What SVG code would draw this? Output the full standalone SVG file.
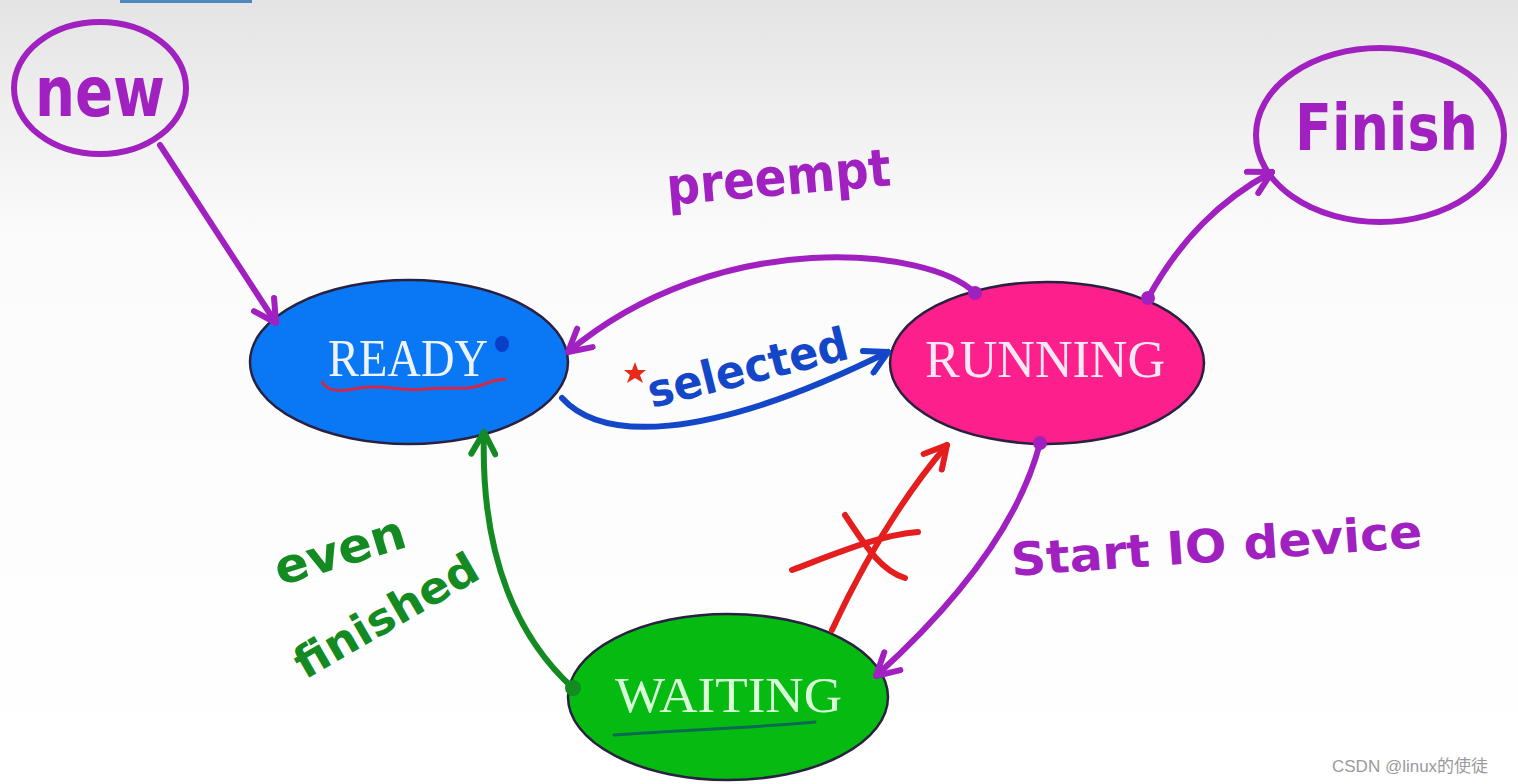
<svg xmlns="http://www.w3.org/2000/svg" width="1518" height="784" viewBox="0 0 1518 784">
<defs>
<linearGradient id="bg" x1="0" y1="0" x2="0" y2="1">
<stop offset="0" stop-color="#e4e4e4"/>
<stop offset="0.3" stop-color="#fbfbfb"/>
<stop offset="1" stop-color="#ffffff"/>
</linearGradient>
<marker id="mP" markerUnits="userSpaceOnUse" viewBox="0 0 30 30" refX="27" refY="15" markerWidth="30" markerHeight="30" orient="auto"><path d="M5,3 L27,15 L5,27" fill="none" stroke="#a020c0" stroke-width="6" stroke-linecap="round" stroke-linejoin="round"/></marker>
<marker id="mB" markerUnits="userSpaceOnUse" viewBox="0 0 30 30" refX="27" refY="15" markerWidth="30" markerHeight="30" orient="auto"><path d="M5,3 L27,15 L5,27" fill="none" stroke="#1446c8" stroke-width="6" stroke-linecap="round" stroke-linejoin="round"/></marker>
<marker id="mG" markerUnits="userSpaceOnUse" viewBox="0 0 30 30" refX="27" refY="15" markerWidth="30" markerHeight="30" orient="auto"><path d="M5,3 L27,15 L5,27" fill="none" stroke="#138a22" stroke-width="6" stroke-linecap="round" stroke-linejoin="round"/></marker>
<marker id="mR" markerUnits="userSpaceOnUse" viewBox="0 0 30 30" refX="27" refY="15" markerWidth="30" markerHeight="30" orient="auto"><path d="M5,3 L27,15 L5,27" fill="none" stroke="#e41e1e" stroke-width="6" stroke-linecap="round" stroke-linejoin="round"/></marker>
</defs>
<style>
.state{stroke:#2a2040;stroke-width:2.5}
.stext{font-family:"Liberation Serif",serif;fill:#eef4ff;text-anchor:start}
.ring{fill:none;stroke:#a020c0;stroke-width:6}
.hand{font-family:"DejaVu Sans",sans-serif;font-weight:bold}
.cp{fill:none;stroke:#a020c0;stroke-width:6;stroke-linecap:round}
</style>
<rect x="0" y="0" width="1518" height="784" fill="url(#bg)"/>
<rect x="120" y="0" width="132" height="3" fill="#4f88c0"/>

<g id="node-new">
<ellipse class="ring" cx="100" cy="88" rx="86" ry="66"/>
<text class="hand" x="35" y="116" font-size="70" fill="#a020c0" textLength="130" lengthAdjust="spacingAndGlyphs">new</text>
</g>

<g id="node-finish">
<ellipse class="ring" cx="1380" cy="135" rx="124" ry="87"/>
<text class="hand" x="1295" y="150" font-size="64" fill="#a020c0" textLength="183" lengthAdjust="spacingAndGlyphs">Finish</text>
</g>

<g id="node-ready">
<ellipse class="state" cx="409" cy="362" rx="159" ry="82" fill="#0a78f5"/>
<text class="stext" x="328" y="376" font-size="52" textLength="160" lengthAdjust="spacingAndGlyphs">READY</text>
<path d="M322,381 C326,392 340,392 360,388 C385,384 400,392 425,389 C450,386 465,392 485,384 C495,379 500,380 506,379" fill="none" stroke="#d02848" stroke-width="3"/>
<ellipse cx="502" cy="344" rx="7" ry="8" fill="#0a3fc8"/>
</g>

<g id="node-running">
<ellipse class="state" cx="1047" cy="363" rx="157" ry="81" fill="#fc1f8c"/>
<text class="stext" x="925" y="377" font-size="53" textLength="240" lengthAdjust="spacingAndGlyphs" style="fill:#fde8f4">RUNNING</text>
</g>

<g id="node-waiting">
<ellipse class="state" cx="728" cy="697" rx="160" ry="83" fill="#05bb12"/>
<text class="stext" x="615" y="712" font-size="51" textLength="227" lengthAdjust="spacingAndGlyphs" style="fill:#d8ffd8">WAITING</text>
<path d="M614,735 C680,730 750,728 815,722" fill="none" stroke="#0b6a50" stroke-width="3" stroke-linecap="round"/>
</g>

<g id="connectors">
<path class="cp" d="M160,145 L276,323" marker-end="url(#mP)"/>
<path class="cp" d="M975,293 C930,248 720,225 568,352" marker-end="url(#mP)"/>
<path d="M562,398 C600,440 700,445 888,352" fill="none" stroke="#1446c8" stroke-width="6" stroke-linecap="round" marker-end="url(#mB)"/>
<path class="cp" d="M1148,298 C1180,240 1220,200 1272,172" marker-end="url(#mP)"/>
<path class="cp" d="M1040,443 C1020,520 960,600 876,676" marker-end="url(#mP)"/>
<path d="M573,688 C520,640 480,560 484,432" fill="none" stroke="#138a22" stroke-width="6" stroke-linecap="round" marker-end="url(#mG)"/>
<path d="M832,630 C860,570 900,500 947,445" fill="none" stroke="#e41e1e" stroke-width="6" stroke-linecap="round" marker-end="url(#mR)"/>
<path d="M792,570 C840,552 880,535 918,532 M845,515 C865,545 880,570 905,578" fill="none" stroke="#e41e1e" stroke-width="6" stroke-linecap="round"/>
<circle cx="975" cy="293" r="7" fill="#a020c0"/>
<circle cx="1148" cy="298" r="7" fill="#a020c0"/>
<circle cx="1040" cy="443" r="7" fill="#a020c0"/>
<circle cx="573" cy="688" r="8" fill="#138a22"/>
<path d="M635,362 L638,370 L646,370 L640,375 L643,383 L635,378 L627,383 L630,375 L624,370 L632,370 Z" fill="#e82a1a"/>
<text class="hand" x="668" y="205" font-size="52" fill="#a020c0" transform="rotate(-5 668 205)" textLength="225" lengthAdjust="spacingAndGlyphs">preempt</text>
<text class="hand" x="652" y="408" font-size="46" fill="#1446c8" transform="rotate(-14 652 408)" textLength="205" lengthAdjust="spacingAndGlyphs">selected</text>
<text class="hand" x="1012" y="576" font-size="46" fill="#a020c0" transform="rotate(-4 1012 576)" textLength="412" lengthAdjust="spacingAndGlyphs">Start IO device</text>
<text class="hand" x="280" y="586" font-size="48" fill="#138a22" transform="rotate(-17 280 586)" textLength="135" lengthAdjust="spacingAndGlyphs">even</text>
<text class="hand" x="305" y="680" font-size="44" fill="#138a22" transform="rotate(-30 305 680)" textLength="205" lengthAdjust="spacingAndGlyphs">finished</text>
</g>

<text x="1332" y="772" font-family="'Liberation Sans','Noto Sans CJK SC',sans-serif" font-size="17" fill="#9a9a9a">CSDN @linux的使徒</text>
</svg>
